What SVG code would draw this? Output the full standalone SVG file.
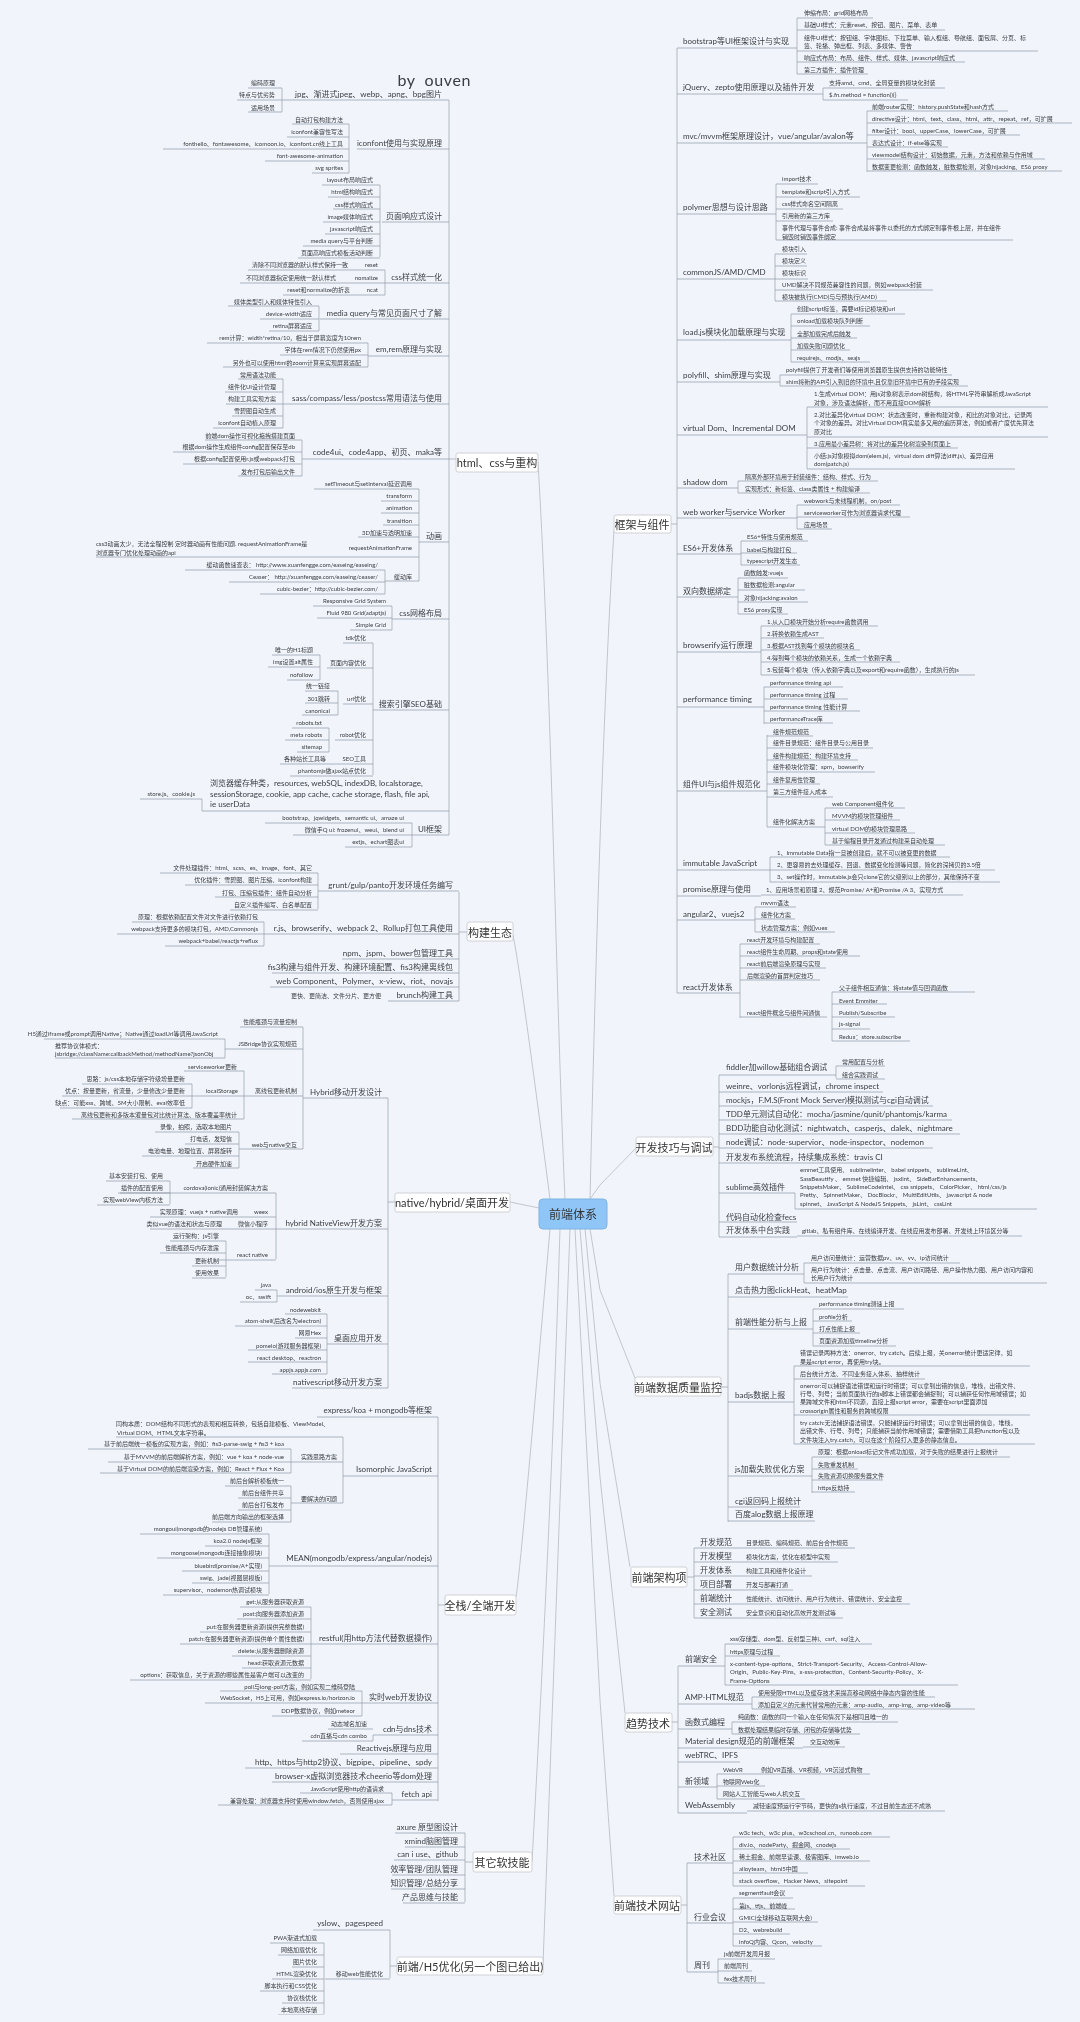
<svg xmlns="http://www.w3.org/2000/svg" width="1080" height="2022" viewBox="0 0 1080 2022">
<style>
text{font-family:"Lato","Noto Sans CJK SC",sans-serif;fill:#3a3d42;dominant-baseline:central}
.L{text-anchor:end}
.st{text-anchor:start}
.s{font-size:6px}
.m{font-size:8px}
.t{font-size:11px;text-anchor:middle;fill:#333}
.b{fill:#fff;stroke:#c3c7cc;stroke-width:.8}
.u{fill:none;stroke:#8d96a3;stroke-width:.7}
.v{fill:none;stroke:#a2a9b3;stroke-width:.8}
.c{fill:none;stroke:#b5bac1;stroke-width:.8}
</style>
<defs><filter id="f" x="0" y="0" width="100%" height="100%"><feGaussianBlur stdDeviation=".3"/></filter></defs>
<rect width="1080" height="2022" fill="#f1f5fb"/>
<g filter="url(#f)">
<g id="connectors">
<path class="c" d="M538 462C552 700 556 1000 565 1199M513 935Q520 967 550 1199M510 1202L539 1208M516 1597Q520 1577 550 1229M532 1862Q552 1500 560 1229M543 1965Q560 1500 570 1229M614 530Q600 760 590 1199M636 1148L600 1185L590 1199M635 1378L600 1290L590 1229M630 1567L600 1383L585 1229M625 1713L600 1477L580 1229M614 1896L600 1700L575 1229"/>
<path class="v" d="M449 100V835M449 459H456M282 88V112M349 124V173M380 185V257M385 270V295M319 306V331M368 343V367M283 379V428M302 440V476M419 489V581M385 570V594M392 606V630M373 643V775M320 655V680M338 691V715M329 728V752M202 799V811M412 823V847"/>
<path class="u" d="M291 100H449M357 149H449M382 222H449M385 283H449M320 319H449M368 356H449M283 404H449M302 459H449M419 542H449M392 619H449M373 710H449M202 811H449M412 835H449
M248 88H282M237 100H291M248 112H282M292 124H349M287 137H349M163 149H349M265 161H349M312 173H349M322 185H380M328 197H380M333 209H380M323 222H380M325 234H380M303 246H380M298 258H380M248 270H385M240 283H385M283 295H385M228 306H319M260 319H319M269 331H319M207 343H368M280 355H368M223 367H368M238 379H283M225 392H283M226 404H283M232 416H283M213 428H283M205 440H302M173 452H302M183 464H302M238 476H302M314 489H419M381 501H419M381 513H419M383 525H419M358 537H419M96 557H419M385 581H419M185 570H385M229 582H385M260 594H385M313 606H392M317 618H392M350 630H392M343 643H373M272 655H320M268 667H320M287 680H320M327 668H373M305 691H338M305 703H338M302 715H338M343 704H373M292 728H329M285 740H329M297 752H329M335 740H373M280 764H373M290 776H373M140 799H202M265 823H412M293 835H412M345 847H412"/>
<path class="v" d="M459 892V1001M459 932H467M318 873V909M264 922V946"/>
<path class="u" d="M318 891H459M264 934H459M342 959H459M272 973H459M270 987H459M388 1001H459M160 873H318M185 885H318M215 897H318M230 910H318M132 922H264M117 934H264M165 946H264"/>
<path class="v" d="M388 1098V1388M388 1202H395M303 1027V1149M225 1039V1058M244 1071V1119M192 1084V1108M239 1132V1168M276 1193V1259M170 1181V1204M226 1241V1277M277 1290V1302M327 1314V1374"/>
<path class="u" d="M303 1098H388M276 1229H388M277 1296H388M327 1344H388M292 1388H388M240 1027H303M225 1049H303M244 1096H303M239 1149H303M44 1039H225M55 1058H225M184 1071H244M192 1096H244M72 1119H244M82 1084H192M62 1096H192M60 1108H192M155 1132H239M185 1144H239M142 1156H239M193 1168H239M120 1193H276M106 1181H170M118 1193H170M97 1205H170M150 1217H276M150 1229H276M170 1241H226M160 1253H226M192 1266H226M192 1278H226M219 1260H276M255 1290H277M240 1302H277M285 1314H327M235 1326H327M295 1338H327M248 1350H327M248 1362H327M272 1374H327"/>
<path class="v" d="M438 1417V1801M438 1605H445M343 1437V1503M291 1449V1473M291 1486V1522M269 1534V1594M311 1607V1679M362 1691V1716M373 1735V1741M392 1793V1805"/>
<path class="u" d="M317 1417H438M343 1476H438M269 1566H438M311 1644H438M362 1703H438M373 1735H438M340 1754H438M245 1768H438M272 1782H438M392 1800H438M116 1437H343M291 1462H343M291 1503H343M88 1449H291M108 1462H291M100 1473H291M225 1486H291M238 1498H291M238 1510H291M212 1522H291M140 1534H269M205 1546H269M157 1558H269M182 1571H269M192 1583H269M163 1595H269M240 1607H311M237 1619H311M200 1632H311M180 1644H311M232 1656H311M242 1668H311M130 1680H311M220 1691H362M205 1703H362M272 1716H362M328 1729H373M302 1741H373M300 1793H392M218 1805H392"/>
<path class="v" d="M465 1833V1902M465 1862H473M390 1930V1978M390 1966H397M324 1943V2014"/>
<path class="u" d="M395 1833H465M405 1847H465M394 1860H465M392 1875H465M391 1889H465M403 1903H465M313 1930H390M325 1979H390M270 1943H324M278 1955H324M292 1967H324M272 1979H324M260 1991H324M282 2003H324M278 2015H324"/>
<path class="v" d="M677 48V993M671 524H677M797 18V74M823 88V100M867 111V172M776 184V240M775 254V301M791 314V362M780 375V386M807 407V469M738 481V493M797 505V529M741 541V565M738 578V614M761 626V675M764 687V724M767 735V827M825 808V845M770 857V882M755 907V932M740 944V1018M832 992V1041"/>
<path class="u" d="M677 48H797M677 94H823M677 143H867M677 214H776M677 279H775M677 340H791M677 382H780M677 435H807M677 488H738M677 518H797M677 554H741M677 597H738M677 652H761M677 707H764M677 791H767M677 870H770M677 896H761M677 920H755M677 993H740
M797 18H873M797 30H945M797 51H1038M797 62H965M797 74H868M823 88H945M823 100H908M867 111H1008M867 123H1072M867 135H1020M867 147H948M867 159H1045M867 171H1062M776 184H818M776 197H860M776 209H843M776 221H833M776 240H1013M775 254H807M775 266H807M775 279H808M775 290H933M775 301H887M791 314H905M791 326H870M791 338H857M791 350H850M791 362H870M780 375H952M780 386H968M807 407H1048M807 437H1048M807 448H958M807 469H1015M738 481H878M738 493H870M797 505H900M797 517H910M797 529H832M741 541H808M741 553H797M741 565H800M738 578H788M738 590H805M738 602H808M738 614H788M761 626H878M761 638H824M761 650H860M761 662H900M761 675H975M764 687H843M764 699H848M764 711H860M764 723H833M767 736H813M767 748H873M767 760H858M767 772H875M767 784H820M767 797H833M767 827H825M825 808H905M825 820H900M825 833H915M825 845H945M770 857H950M770 870H995M770 882H1000M761 895H963M755 907H796M755 919H795M755 932H835M740 944H820M740 956H860M740 968H826M740 980H820M740 1017H827M832 992H975M832 1004H887M832 1017H895M832 1029H870M832 1041H910"/>
<path class="v" d="M719 1075V1237M713 1147H719M836 1066V1078M795 1193V1209"/>
<path class="u" d="M719 1075H836M719 1092H883M719 1106H933M719 1120H952M719 1134H960M719 1148H933M719 1163H880M719 1193H795M719 1222H797M719 1237H797M836 1066H885M836 1079H885M795 1209H1037M797 1236H1022"/>
<path class="v" d="M728 1274V1522M721 1387H728M804 1263V1283M813 1309V1346M794 1366V1444M812 1457V1493"/>
<path class="u" d="M728 1274H804M728 1297H848M728 1329H813M728 1402H794M728 1476H812M728 1507H800M728 1521H815M804 1263H960M804 1283H1047M813 1309H904M813 1321H852M813 1333H860M813 1346H896M794 1366H1030M794 1379H925M794 1415H1030M794 1444H1035M812 1457H1010M812 1469H858M812 1480H883M812 1492H855"/>
<path class="v" d="M694 1548V1618M687 1577H694"/>
<path class="u" d="M694 1548H855M694 1562H838M694 1576H812M694 1590H793M694 1604H910M694 1618H843"/>
<path class="v" d="M678 1666V1813M672 1722H678M725 1644V1685M752 1697V1709M732 1722V1734M717 1774V1799"/>
<path class="u" d="M678 1666H725M678 1704H752M678 1729H732M678 1748H803M678 1762H740M678 1787H717M678 1813H747M725 1644H872M725 1656H780M725 1685H958M752 1697H935M752 1709H975M732 1722H898M732 1734H860M803 1747H845M717 1774H870M717 1786H765M717 1799H805M747 1811H945"/>
<path class="v" d="M687 1863V1972M681 1905H687M733 1837V1886M733 1898V1946M718 1959V1983"/>
<path class="u" d="M687 1863H733M687 1923H733M687 1972H718M733 1837H890M733 1849H850M733 1861H870M733 1873H808M733 1886H865M733 1898H793M733 1909H795M733 1922H818M733 1934H790M733 1946H822M718 1959H775M718 1971H752M718 1983H765"/>
</g>

<g id="title"><text x="471" y="79" class="L" style="font-size:16px;letter-spacing:.6px">by&#160;&#160;ouven</text></g>

<g id="root"><rect x="539" y="1199" width="68" height="30" rx="4" fill="#8fc6f7" stroke="#7fb4e4"/><text x="573" y="1214" class="t" style="font-size:12px">前端体系</text></g>

<g id="sec-html" class="L">
<g id="html"><rect class="b" x="456" y="453" width="82" height="19" rx="2"/><text class="t" x="497" y="462">html、css与重构</text></g>
<g id="h1"><text class="m" x="442" y="94">jpg、渐进式jpeg、webp、apng、bpg图片</text></g>
<g id="h1a"><text class="s" x="275" y="82">编码原理</text></g><g id="h1b"><text class="s" x="275" y="94">特点与优劣势</text></g><g id="h1c"><text class="s" x="275" y="107">适用场景</text></g>
<g id="h2"><text class="m" x="442" y="143">iconfont使用与实现原理</text></g>
<g id="h2a"><text class="s" x="343" y="119">自动打包构建方法</text></g><g id="h2b"><text class="s" x="343" y="131">iconfont兼容性写法</text></g><g id="h2c"><text class="s" x="343" y="143">fonthello、fontawesome、icomoon.io、iconfont.cn线上工具</text></g><g id="h2d"><text class="s" x="343" y="155">font-awesome-animation</text></g><g id="h2e"><text class="s" x="343" y="167">svg sprites</text></g>
<g id="h3"><text class="m" x="442" y="216">页面响应式设计</text></g>
<g id="h3a"><text class="s" x="373" y="179">layout布局响应式</text></g><g id="h3b"><text class="s" x="373" y="191">html结构响应式</text></g><g id="h3c"><text class="s" x="373" y="204">css样式响应式</text></g><g id="h3d"><text class="s" x="373" y="216">image媒体响应式</text></g><g id="h3e"><text class="s" x="373" y="228">javascript响应式</text></g><g id="h3f"><text class="s" x="373" y="240">media query与平台判断</text></g><g id="h3g"><text class="s" x="373" y="252">页面高响应式模板活动判断</text></g>
<g id="h4"><text class="m" x="442" y="277">css样式统一化</text></g>
<g id="h4a"><text class="s" x="378" y="264">reset</text></g><g id="h4b"><text class="s" x="378" y="277">nomalize</text></g><g id="h4c"><text class="s" x="378" y="289">ncat</text></g>
<g id="h4a1"><text class="s" x="348" y="264">清除不同浏览器的默认样式保持一致</text></g><g id="h4b1"><text class="s" x="336" y="277">不同浏览器指定使用统一默认样式</text></g><g id="h4c1"><text class="s" x="350" y="289">reset和normalize的折衷</text></g>
<g id="h5"><text class="m" x="442" y="313">media query与常见页面尺寸了解</text></g>
<g id="h5a"><text class="s" x="312" y="301">媒体类型引入和媒体特性引入</text></g><g id="h5b"><text class="s" x="312" y="313">device-width适应</text></g><g id="h5c"><text class="s" x="312" y="325">retina屏幕适应</text></g>
<g id="h6"><text class="m" x="442" y="349">em,rem原理与实现</text></g>
<g id="h6a"><text class="s" x="361" y="337">rem计算：width*retina/10，相当于屏幕宽度为10rem</text></g><g id="h6b"><text class="s" x="361" y="349">字体在rem情况下仍然使用px</text></g><g id="h6c"><text class="s" x="361" y="362">另外也可以使用html的zoom计算来实现屏幕适配</text></g>
<g id="h7"><text class="m" x="442" y="398">sass/compass/less/postcss常用语法与使用</text></g>
<g id="h7a"><text class="s" x="276" y="374">常用语法功能</text></g><g id="h7b"><text class="s" x="276" y="386">组件化UI设计管理</text></g><g id="h7c"><text class="s" x="276" y="398">构建工具实现方案</text></g><g id="h7d"><text class="s" x="276" y="410">雪碧图自动生成</text></g><g id="h7e"><text class="s" x="276" y="422">iconfont自动植入原理</text></g>
<g id="h8"><text class="m" x="442" y="452">code4ui、code4app、初页、maka等</text></g>
<g id="h8a"><text class="s" x="295" y="435">前端dom操作可视化拖拽搭建页面</text></g><g id="h8b"><text class="s" x="295" y="446">根据dom操作生成组件config配置保存至db</text></g><g id="h8c"><text class="s" x="295" y="458">根据config配置使用r.js或webpack打包</text></g><g id="h8d"><text class="s" x="295" y="471">发布打包后输出文件</text></g>
<g id="h9"><text class="m" x="442" y="536">动画</text></g>
<g id="h9a"><text class="s" x="412" y="483">setTimeout与setInterval延迟调用</text></g><g id="h9b"><text class="s" x="412" y="495">transform</text></g><g id="h9c"><text class="s" x="412" y="507">animation</text></g><g id="h9d"><text class="s" x="412" y="520">transition</text></g><g id="h9e"><text class="s" x="412" y="532">3D加速与透明加速</text></g><g id="h9f"><text class="s" x="412" y="547">requestAnimationFrame</text></g>
<g id="h9f1"><text class="s st" x="96" y="543">css3动画太少，无法全程控制 定时器动画有性能问题. requestAnimationFrame是</text><text class="s st" x="96" y="552">浏览器专门优化处理动画的api</text></g>
<g id="h9g"><text class="s" x="412" y="576">缓动库</text></g>
<g id="h9g1"><text class="s" x="378" y="564">缓动函数速查表： http://www.xuanfengge.com/easeing/easeing/</text></g><g id="h9g2"><text class="s" x="378" y="576">Ceaser： http://xuanfengge.com/easeing/ceaser/</text></g><g id="h9g3"><text class="s" x="378" y="588">cubic-bezier：http://cubic-bezier.com/</text></g>
<g id="h10"><text class="m" x="442" y="613">css网格布局</text></g>
<g id="h10a"><text class="s" x="386" y="600">Responsive Grid System</text></g><g id="h10b"><text class="s" x="386" y="612">Fluid 980 Grid(adaptjs)</text></g><g id="h10c"><text class="s" x="386" y="624">Simple Grid</text></g>
<g id="h11"><text class="m" x="442" y="704">搜索引擎SEO基础</text></g>
<g id="h11a"><text class="s" x="366" y="637">tdk优化</text></g><g id="h11b"><text class="s" x="366" y="662">页面内容优化</text></g>
<g id="h11b1"><text class="s" x="313" y="649">唯一的H1标题</text></g><g id="h11b2"><text class="s" x="313" y="661">img设置alt属性</text></g><g id="h11b3"><text class="s" x="313" y="674">nofollow</text></g>
<g id="h11c"><text class="s" x="366" y="698">url优化</text></g>
<g id="h11c1"><text class="s" x="330" y="685">统一链接</text></g><g id="h11c2"><text class="s" x="330" y="698">301跳转</text></g><g id="h11c3"><text class="s" x="330" y="710">canonical</text></g>
<g id="h11d"><text class="s" x="366" y="734">robot优化</text></g>
<g id="h11d1"><text class="s" x="322" y="722">robots.txt</text></g><g id="h11d2"><text class="s" x="322" y="734">meta robots</text></g><g id="h11d3"><text class="s" x="322" y="746">sitemap</text></g>
<g id="h11e"><text class="s" x="366" y="758">SEO工具</text></g><g id="h11e1"><text class="s" x="326" y="758">各种站长工具等</text></g><g id="h11f"><text class="s" x="366" y="770">phantomjs做ajax站点优化</text></g>
<g id="h12"><text class="m st" x="210" y="783">浏览器缓存种类，resources, webSQL, indexDB, localstorage,</text><text class="m st" x="210" y="794">sessionStorage, cookie, app cache, cache storage, flash, file api,</text><text class="m st" x="210" y="804">ie userData</text></g>
<g id="h12a"><text class="s" x="195" y="793">store.js、cookie.js</text></g>
<g id="h13"><text class="m" x="442" y="829">UI框架</text></g>
<g id="h13a"><text class="s" x="404" y="817">bootstrap、jqwidgets、semantic ui、amaze ui</text></g><g id="h13b"><text class="s" x="404" y="829">微信手Q ui: frozenui、weui、blend ui</text></g><g id="h13c"><text class="s" x="404" y="841">extjs、echart图表ui</text></g>
</g>

<g id="sec-build" class="L">
<g id="build"><rect class="b" x="467" y="922" width="46" height="19" rx="2"/><text class="t" x="490" y="932">构建生态</text></g>
<g id="b1"><text class="m" x="453" y="885">grunt/gulp/panto开发环境任务编写</text></g>
<g id="b1a"><text class="s" x="312" y="867">文件处理插件：html、scss、es、image、font、其它</text></g><g id="b1b"><text class="s" x="312" y="879">优化插件：雪碧图、图片压缩、iconfont构建</text></g><g id="b1c"><text class="s" x="312" y="892">打包、压缩包插件：组件自动分析</text></g><g id="b1d"><text class="s" x="312" y="904">自定义插件编写、白名单配置</text></g>
<g id="b2"><text class="m" x="453" y="928">r.js、browserify、webpack 2、Rollup打包工具使用</text></g>
<g id="b2a"><text class="s" x="258" y="916">原理：根据依赖配置文件对文件进行依赖打包</text></g><g id="b2b"><text class="s" x="258" y="928">webpack支持更多的模块打包，AMD,Commonjs</text></g><g id="b2c"><text class="s" x="258" y="940">webpack+babel/reactjs+reflux</text></g>
<g id="b3"><text class="m" x="453" y="953">npm、jspm、bower包管理工具</text></g>
<g id="b4"><text class="m" x="453" y="967">fis3构建与组件开发、构建环境配置、fis3构建离线包</text></g>
<g id="b5"><text class="m" x="453" y="981">web Component、Polymer、x-view、riot、novajs</text></g>
<g id="b6"><text class="m" x="453" y="995">brunch构建工具</text></g><g id="b6a"><text class="s" x="381" y="995">更快、更简洁、文件分片、更方便</text></g>
</g>

<g id="sec-native" class="L">
<g id="native"><rect class="b" x="395" y="1193" width="115" height="19" rx="2"/><text class="t" x="452" y="1202">native/hybrid/桌面开发</text></g>
<g id="n1"><text class="m" x="382" y="1092">Hybrid移动开发设计</text></g>
<g id="n1a"><text class="s" x="297" y="1021">性能瓶颈与流量控制</text></g><g id="n1b"><text class="s" x="297" y="1043">JSBridge协议实现规范</text></g>
<g id="n1b1"><text class="s" x="218" y="1033">H5通过iframe或prompt调用Native；Native通过loadUrl等调用JavaScript</text></g><g id="n1b2"><text class="s st" x="55" y="1045">推荐协议体模式：</text><text class="s st" x="55" y="1053">jsbridge://className:callbackMethod/methodName?jsonObj</text></g>
<g id="n1c"><text class="s" x="297" y="1090">离线包更新机制</text></g>
<g id="n1c1"><text class="s" x="237" y="1066">serviceworker更新</text></g><g id="n1c2"><text class="s" x="238" y="1090">localStorage</text></g><g id="n1c3"><text class="s" x="237" y="1114">离线包更新和多版本灌量包对比统计算法、版本覆盖率统计</text></g>
<g id="n1c2a"><text class="s" x="185" y="1078">思路：js/css本地存储字符级增量更新</text></g><g id="n1c2b"><text class="s" x="185" y="1090">优点：按量更新，省流量，少量修改少量更新</text></g><g id="n1c2c"><text class="s" x="185" y="1102">缺点：可能xss、跨域、5M大小限制、eval效率低</text></g>
<g id="n1d"><text class="s" x="297" y="1144">web与native交互</text></g>
<g id="n1d1"><text class="s" x="232" y="1126">录像，拍照，选取本地图片</text></g><g id="n1d2"><text class="s" x="232" y="1138">打电话，发短信</text></g><g id="n1d3"><text class="s" x="232" y="1150">电池电量、地理位置、屏幕旋转</text></g><g id="n1d4"><text class="s" x="232" y="1163">开启硬件加速</text></g>
<g id="n2"><text class="m" x="382" y="1223">hybrid NativeView开发方案</text></g>
<g id="n2a"><text class="s" x="268" y="1187">cordova(ionic)通用封装解决方案</text></g>
<g id="n2a1"><text class="s" x="163" y="1175">基本安装打包、使用</text></g><g id="n2a2"><text class="s" x="163" y="1187">插件的配置使用</text></g><g id="n2a3"><text class="s" x="163" y="1199">实现webView内核方法</text></g>
<g id="n2b"><text class="s" x="268" y="1211">weex</text></g><g id="n2b1"><text class="s" x="238" y="1211">实现原理：vuejs + native调用</text></g>
<g id="n2c"><text class="s" x="268" y="1223">微信小程序</text></g><g id="n2c1"><text class="s" x="222" y="1223">类似vue的语法和状态与原理</text></g>
<g id="n2d"><text class="s" x="268" y="1254">react native</text></g>
<g id="n2d1"><text class="s" x="219" y="1235">运行架构：js引擎</text></g><g id="n2d2"><text class="s" x="219" y="1247">性能瓶颈与内存泄露</text></g><g id="n2d3"><text class="s" x="219" y="1260">更新机制</text></g><g id="n2d4"><text class="s" x="219" y="1272">使用效果</text></g>
<g id="n3"><text class="m" x="382" y="1290">android/ios原生开发与框架</text></g>
<g id="n3a"><text class="s" x="271" y="1284">java</text></g><g id="n3b"><text class="s" x="271" y="1296">oc、swift</text></g>
<g id="n4"><text class="m" x="382" y="1338">桌面应用开发</text></g>
<g id="n4a"><text class="s" x="321" y="1309">nodewebkit</text></g><g id="n4b"><text class="s" x="321" y="1320">atom-shell(后改名为electron)</text></g><g id="n4c"><text class="s" x="321" y="1332">网易Hex</text></g><g id="n4d"><text class="s" x="321" y="1345">pomelo(游戏服务器框架)</text></g><g id="n4e"><text class="s" x="321" y="1357">react desktop、reactron</text></g><g id="n4f"><text class="s" x="321" y="1369">appjs.appjs.com</text></g>
<g id="n5"><text class="m" x="382" y="1382">nativescript移动开发方案</text></g>
</g>

<g id="sec-full" class="L">
<g id="full"><rect class="b" x="445" y="1595" width="71" height="20" rx="2"/><text class="t" x="480" y="1605">全栈/全端开发</text></g>
<g id="f1"><text class="m" x="432" y="1410">express/koa + mongodb等框架</text></g>
<g id="f2"><text class="m" x="432" y="1469">Isomorphic JavaScript</text></g>
<g id="f2a"><text class="s st" x="116" y="1423">同构本质：DOM结构不同形式的表现和相互转换，包括自建模板、ViewModel、</text><text class="s st" x="117" y="1432">Virtual DOM、HTML文本字符串。</text></g>
<g id="f2b"><text class="s" x="337" y="1456">实践思路方案</text></g><g id="f2c"><text class="s" x="337" y="1498">要解决的问题</text></g>
<g id="f2b1"><text class="s" x="284" y="1443">基于前后端统一模板的实现方案，例如：fis3-parse-swig + fis3 + koa</text></g><g id="f2b2"><text class="s" x="284" y="1456">基于MVVM的前后端解析方案，例如：vue + koa + node-vue</text></g><g id="f2b3"><text class="s" x="284" y="1468">基于Virtual DOM的前后端渲染方案，例如：React + Flux + Koa</text></g>
<g id="f2c1"><text class="s" x="284" y="1480">前后台解析模板统一</text></g><g id="f2c2"><text class="s" x="284" y="1492">前后台组件共享</text></g><g id="f2c3"><text class="s" x="284" y="1504">前后台打包发布</text></g><g id="f2c4"><text class="s" x="284" y="1516">前后端方向输出的框架选择</text></g>
<g id="f3"><text class="m" x="432" y="1558">MEAN(mongodb/express/angular/nodejs)</text></g>
<g id="f3a"><text class="s" x="262" y="1528">mongoui(mongodb的nodejs DB管理系统)</text></g><g id="f3b"><text class="s" x="262" y="1540">koa2.0 nodejs框架</text></g><g id="f3c"><text class="s" x="262" y="1552">mongoose(mongodb连接抽象模块)</text></g><g id="f3d"><text class="s" x="262" y="1565">bluebird(promise/A+实现)</text></g><g id="f3e"><text class="s" x="262" y="1577">swig、jade(视图层模板)</text></g><g id="f3f"><text class="s" x="262" y="1589">supervisor、nodemon热调试模块</text></g>
<g id="f4"><text class="m" x="432" y="1638">restful(用http方法代替数据操作)</text></g>
<g id="f4a"><text class="s" x="304" y="1601">get:从服务器获取资源</text></g><g id="f4b"><text class="s" x="304" y="1613">post:向服务器添加资源</text></g><g id="f4c"><text class="s" x="304" y="1626">put:在服务器更新资源(提供完整数据)</text></g><g id="f4d"><text class="s" x="304" y="1638">patch:在服务器更新资源(提供单个属性数据)</text></g><g id="f4e"><text class="s" x="304" y="1650">delete:从服务器删除资源</text></g><g id="f4f"><text class="s" x="304" y="1662">head:获取资源元数据</text></g><g id="f4g"><text class="s" x="304" y="1674">options：获取信息，关于资源的哪些属性是客户端可以改变的</text></g>
<g id="f5"><text class="m" x="432" y="1697">实时web开发协议</text></g>
<g id="f5a"><text class="s" x="355" y="1686">poll与long-poll方案，例如实现二维码登陆</text></g><g id="f5b"><text class="s" x="355" y="1697">WebSocket，H5上可用，例如express.io/horizon.io</text></g><g id="f5c"><text class="s" x="355" y="1710">DDP数据协议，例如meteor</text></g>
<g id="f6"><text class="m" x="432" y="1729">cdn与dns技术</text></g>
<g id="f6a"><text class="s" x="367" y="1723">动态域名加速</text></g><g id="f6b"><text class="s" x="367" y="1735">cdn直播与cdn combo</text></g>
<g id="f7"><text class="m" x="432" y="1748">Reactivejs原理与应用</text></g>
<g id="f8"><text class="m" x="432" y="1762">http、https与http2协议、bigpipe、pipeline、spdy</text></g>
<g id="f9"><text class="m" x="432" y="1776">browser-x虚拟浏览器技术cheerio等dom处理</text></g>
<g id="f10"><text class="m" x="432" y="1794">fetch api</text></g>
<g id="f10a"><text class="s" x="384" y="1788">JavaScript使用http的语请求</text></g><g id="f10b"><text class="s" x="384" y="1800">兼容处理：浏览器支持时使用window.fetch，否则使用ajax</text></g>
</g>

<g id="sec-soft" class="L">
<g id="soft"><rect class="b" x="473" y="1852" width="59" height="20" rx="2"/><text class="t" x="502" y="1862">其它软技能</text></g>
<g id="o1"><text class="m" x="458" y="1827">axure 原型图设计</text></g><g id="o2"><text class="m" x="458" y="1841">xmind脑图管理</text></g><g id="o3"><text class="m" x="458" y="1854">can i use、github</text></g><g id="o4"><text class="m" x="458" y="1869">效率管理/团队管理</text></g><g id="o5"><text class="m" x="458" y="1883">知识管理/总结分享</text></g><g id="o6"><text class="m" x="458" y="1897">产品思维与技能</text></g>
</g>

<g id="sec-h5" class="L">
<g id="h5node"><rect class="b" x="397" y="1957" width="146" height="18" rx="2"/><text class="t" x="470" y="1966">前端/H5优化(另一个图已给出)</text></g>
<g id="p1"><text class="m" x="383" y="1923">yslow、pagespeed</text></g>
<g id="p2"><text class="s" x="383" y="1973">移动web性能优化</text></g>
<g id="p2a"><text class="s" x="317" y="1937">PWA渐进式加载</text></g><g id="p2b"><text class="s" x="317" y="1949">网络加载优化</text></g><g id="p2c"><text class="s" x="317" y="1961">图片优化</text></g><g id="p2d"><text class="s" x="317" y="1973">HTML渲染优化</text></g><g id="p2e"><text class="s" x="317" y="1985">脚本执行和CSS优化</text></g><g id="p2f"><text class="s" x="317" y="1997">协议栈优化</text></g><g id="p2g"><text class="s" x="317" y="2009">本地离线存储</text></g>
</g>

<g id="sec-frame">
<g id="frame"><rect class="b" x="614" y="515" width="57" height="18" rx="2"/><text class="t" x="642" y="524">框架与组件</text></g>
<g id="a1"><text class="m" x="683" y="41">bootstrap等UI框架设计与实现</text></g>
<g id="a1a"><text class="s" x="804" y="12">伸缩布局：grid网格布局</text></g><g id="a1b"><text class="s" x="804" y="24">基础UI样式：元素reset、按钮、图片、菜单、表单</text></g><g id="a1c"><text class="s" x="804" y="37">组件UI样式：按钮组、字体图标、下拉菜单、输入框组、导航组、面包屑、分页、标</text><text class="s" x="804" y="45">签、轮播、弹出框、列表、多媒体、警告</text></g><g id="a1d"><text class="s" x="804" y="57">响应式布局：布局、组件、样式、媒体、javascript响应式</text></g><g id="a1e"><text class="s" x="804" y="69">第三方插件：插件管理</text></g>
<g id="a2"><text class="m" x="683" y="87">jQuery、zepto使用原理以及插件开发</text></g>
<g id="a2a"><text class="s" x="829" y="82">支持amd、cmd、全局变量的模块化封装</text></g><g id="a2b"><text class="s" x="829" y="94">$.fn.method = function(){}</text></g>
<g id="a3"><text class="m" x="683" y="136">mvc/mvvm框架原理设计，vue/angular/avalon等</text></g>
<g id="a3a"><text class="s" x="872" y="106">前端router实现：history.pushState和hash方式</text></g><g id="a3b"><text class="s" x="872" y="118">directive设计：html、text、class、html、attr、repeat、ref，可扩展</text></g><g id="a3c"><text class="s" x="872" y="130">filter设计：bool、upperCase、lowerCase，可扩展</text></g><g id="a3d"><text class="s" x="872" y="142">表达式设计：if-else等实现</text></g><g id="a3e"><text class="s" x="872" y="154">viewmodel结构设计：初始数据，元素，方法和依赖与作用域</text></g><g id="a3f"><text class="s" x="872" y="166">数据变更检测：函数触发，脏数据检测，对象hijacking、ES6 proxy</text></g>
<g id="a4"><text class="m" x="683" y="207">polymer思想与设计思路</text></g>
<g id="a4a"><text class="s" x="782" y="178">import技术</text></g><g id="a4b"><text class="s" x="782" y="191">template和script引入方式</text></g><g id="a4c"><text class="s" x="782" y="203">css样式命名空间隔离</text></g><g id="a4d"><text class="s" x="782" y="215">引用新的第三方库</text></g><g id="a4e"><text class="s" x="782" y="227">事件代理与事件合成: 事件合成是将事件以委托的方式绑定到事件根上层，并在组件</text><text class="s" x="782" y="236">销毁时销毁事件绑定</text></g>
<g id="a5"><text class="m" x="683" y="272">commonJS/AMD/CMD</text></g>
<g id="a5a"><text class="s" x="782" y="248">模块引入</text></g><g id="a5b"><text class="s" x="782" y="260">模块定义</text></g><g id="a5c"><text class="s" x="782" y="272">模块标识</text></g><g id="a5d"><text class="s" x="782" y="284">UMD解决不同规范兼容性的问题，例如webpack封装</text></g><g id="a5e"><text class="s" x="782" y="296">模块被执行(CMD)与与预执行(AMD)</text></g>
<g id="a6"><text class="m" x="683" y="332">load.js模块化加载原理与实现</text></g>
<g id="a6a"><text class="s" x="797" y="308">创建script标签，需要id标记模块和url</text></g><g id="a6b"><text class="s" x="797" y="320">onload加载模块队列判断</text></g><g id="a6c"><text class="s" x="797" y="333">全部加载完成后触发</text></g><g id="a6d"><text class="s" x="797" y="345">加载失败问题优化</text></g><g id="a6e"><text class="s" x="797" y="357">requirejs、modjs、seajs</text></g>
<g id="a7"><text class="m" x="683" y="375">polyfill、shim原理与实现</text></g>
<g id="a7a"><text class="s" x="786" y="369">polyfill提供了开发者们等使用浏览器原生提供支持的功能特性</text></g><g id="a7b"><text class="s" x="786" y="381">shim将新的API引入到旧的环境中,且仅靠旧环境中已有的手段实现</text></g>
<g id="a8"><text class="m" x="683" y="428">virtual Dom、Incremental DOM</text></g>
<g id="a8a"><text class="s" x="814" y="393">1.生成virtual DOM：用js对象树表示dom树结构，将HTML字符串解析成JavaScript</text><text class="s" x="814" y="402">对象，涉及语法解析，而不用直接DOM解析</text></g>
<g id="a8b"><text class="s" x="814" y="414">2.对比差异化virtual DOM：状态改变时，重新构建对象，和比的对象对比，记录两</text><text class="s" x="814" y="422">个对象的差异。对比Virtual DOM真实最多又用的遍历算法，例如或者广度优先算法</text><text class="s" x="814" y="431">原对比</text></g>
<g id="a8c"><text class="s" x="814" y="443">3.应用最小差异树：将对比的差异化树渲染到页面上</text></g>
<g id="a8d"><text class="s" x="814" y="455">小结:js对象模拟dom(elem.js)，virtual dom diff算法(diff.js)、差异应用</text><text class="s" x="814" y="463">dom(patch.js)</text></g>
<g id="a9"><text class="m" x="683" y="482">shadow dom</text></g>
<g id="a9a"><text class="s" x="745" y="476">隔离外部环境用于封装组件：结构、样式、行为</text></g><g id="a9b"><text class="s" x="745" y="488">实现形式：新标签、class类属性 + 构建编译</text></g>
<g id="a10"><text class="m" x="683" y="512">web worker与service Worker</text></g>
<g id="a10a"><text class="s" x="804" y="500">webwork与未线程机制，on/post</text></g><g id="a10b"><text class="s" x="804" y="512">serviceworker可作为浏览器请求代理</text></g><g id="a10c"><text class="s" x="804" y="524">应用场景</text></g>
<g id="a11"><text class="m" x="683" y="548">ES6+开发体系</text></g>
<g id="a11a"><text class="s" x="747" y="536">ES6+特性与使用规范</text></g><g id="a11b"><text class="s" x="747" y="549">babel与构建打包</text></g><g id="a11c"><text class="s" x="747" y="560">typescript开发生态</text></g>
<g id="a12"><text class="m" x="683" y="591">双向数据绑定</text></g>
<g id="a12a"><text class="s" x="744" y="572">函数触发:vuejs</text></g><g id="a12b"><text class="s" x="744" y="584">脏数据检测:angular</text></g><g id="a12c"><text class="s" x="744" y="597">对象hijacking:avalon</text></g><g id="a12d"><text class="s" x="744" y="609">ES6 proxy实现</text></g>
<g id="a13"><text class="m" x="683" y="645">browserify运行原理</text></g>
<g id="a13a"><text class="s" x="767" y="621">1.从入口模块开始分析require函数调用</text></g><g id="a13b"><text class="s" x="767" y="633">2.转换依赖生成AST</text></g><g id="a13c"><text class="s" x="767" y="645">3.根据AST找到每个模块的模块名</text></g><g id="a13d"><text class="s" x="767" y="657">4.得到每个模块的依赖关系，生成一个依赖字典</text></g><g id="a13e"><text class="s" x="767" y="669">5.包装每个模块（传入依赖字典以及export和require函数），生成执行的js</text></g>
<g id="a14"><text class="m" x="683" y="699">performance timing</text></g>
<g id="a14a"><text class="s" x="770" y="682">performance timing api</text></g><g id="a14b"><text class="s" x="770" y="694">performance timing 过程</text></g><g id="a14c"><text class="s" x="770" y="706">performance timing 性能计算</text></g><g id="a14d"><text class="s" x="770" y="718">performanceTrace库</text></g>
<g id="a15"><text class="m" x="683" y="784">组件UI与js组件规范化</text></g>
<g id="a15a"><text class="s" x="773" y="731">组件规范规范</text></g><g id="a15b"><text class="s" x="773" y="742">组件目录规范：组件目录与公用目录</text></g><g id="a15c"><text class="s" x="773" y="755">组件构建规范：构建环境支持</text></g><g id="a15d"><text class="s" x="773" y="766">组件模块化管理：spm，bowserify</text></g><g id="a15e"><text class="s" x="773" y="779">组件复用性管理</text></g><g id="a15f"><text class="s" x="773" y="791">第三方组件接入成本</text></g><g id="a15g"><text class="s" x="773" y="821">组件化解决方案</text></g>
<g id="a15g1"><text class="s" x="832" y="803">web Component组件化</text></g><g id="a15g2"><text class="s" x="832" y="815">MVVM的模块管理组件</text></g><g id="a15g3"><text class="s" x="832" y="828">virtual DOM的模块管理思路</text></g><g id="a15g4"><text class="s" x="832" y="840">基于编程目录开发通过构建来自动处理</text></g>
<g id="a16"><text class="m" x="683" y="863">immutable JavaScript</text></g>
<g id="a16a"><text class="s" x="777" y="852">1、Immutable Data指一旦被创建后，就不可以被变更的数据</text></g><g id="a16b"><text class="s" x="777" y="864">2、更容易的去处理缓存、回退、数据变化检测等问题，简化的深拷贝的3.5倍</text></g><g id="a16c"><text class="s" x="777" y="876">3、set操作时，immutable.js会只clone它的父级别以上的部分，其他保持不变</text></g>
<g id="a17"><text class="m" x="683" y="889">promise原理与使用</text></g>
<g id="a17a"><text class="s" x="766" y="889">1、应用场景和原理 2、规范Promise/ A+和Promise /A 3、实现方式</text></g>
<g id="a18"><text class="m" x="683" y="914">angular2、vuejs2</text></g>
<g id="a18a"><text class="s" x="761" y="902">mvvm语法</text></g><g id="a18b"><text class="s" x="761" y="914">组件化方案</text></g><g id="a18c"><text class="s" x="761" y="927">状态管理方案：例如vuex</text></g>
<g id="a19"><text class="m" x="683" y="987">react开发体系</text></g>
<g id="a19a"><text class="s" x="747" y="939">react开发环境与构建配置</text></g><g id="a19b"><text class="s" x="747" y="951">react组件生命周期、props和state使用</text></g><g id="a19c"><text class="s" x="747" y="963">react前后端渲染原理与实现</text></g><g id="a19d"><text class="s" x="747" y="975">后端渲染的首屏判定技巧</text></g><g id="a19e"><text class="s" x="747" y="1012">react组件概念与组件间通信</text></g>
<g id="a19e1"><text class="s" x="839" y="987">父子组件相互通信：将state值与回调函数</text></g><g id="a19e2"><text class="s" x="839" y="1000">Event Emmiter</text></g><g id="a19e3"><text class="s" x="839" y="1012">Publish/Subscribe</text></g><g id="a19e4"><text class="s" x="839" y="1023">js-signal</text></g><g id="a19e5"><text class="s" x="839" y="1036">Redux：store.subscribe</text></g>
</g>

<g id="sec-dev">
<g id="dev"><rect class="b" x="636" y="1137" width="77" height="19" rx="2"/><text class="t" x="674" y="1147">开发技巧与调试</text></g>
<g id="d1"><text class="m" x="726" y="1067">fiddler加willow基础组合调试</text></g><g id="d1a"><text class="s" x="842" y="1061">常用配置与分析</text></g><g id="d1b"><text class="s" x="842" y="1074">组合实践调试</text></g>
<g id="d2"><text class="m" x="726" y="1086">weinre、vorlonjs远程调试，chrome inspect</text></g>
<g id="d3"><text class="m" x="726" y="1100">mockjs，F.M.S(Front Mock Server)模拟测试与cgi自动调试</text></g>
<g id="d4"><text class="m" x="726" y="1114">TDD单元测试自动化：mocha/jasmine/qunit/phantomjs/karma</text></g>
<g id="d5"><text class="m" x="726" y="1128">BDD功能自动化测试：nightwatch、casperjs、dalek、nightmare</text></g>
<g id="d6"><text class="m" x="726" y="1142">node调试：node-supervior、node-inspector、nodemon</text></g>
<g id="d7"><text class="m" x="726" y="1157">开发发布系统流程，持续集成系统：travis CI</text></g>
<g id="d8"><text class="m" x="726" y="1187">sublime高效插件</text></g>
<g id="d8a"><text class="s" x="800" y="1169">emmet工具使用、 sublimelinter、 babel snippets、 sublimeLint、</text><text class="s" x="800" y="1178">SassBeautify 、 emmet 快捷编辑、 jsxlint、 SideBarEnhancements、</text><text class="s" x="800" y="1186">SnippetsMaker、 SublimeCodeIntel、 css snippets、 ColorPicker、 html/css/js</text><text class="s" x="800" y="1194">Pretty、 SpinnetMaker、 DocBlockr、 MultiEditUtils、 javascript &amp; node</text><text class="s" x="800" y="1203">spinnet、 JavaScript &amp; NodeJS Snippets、 jsLint、 cssLint</text></g>
<g id="d9"><text class="m" x="726" y="1217">代码自动化检查fecs</text></g>
<g id="d10"><text class="m" x="726" y="1230">开发体系中台实践</text></g><g id="d10a"><text class="s" x="802" y="1230">gitlab、私有组件库、在线编译开发、在线应用发布部署、开发线上环境区分等</text></g>
</g>

<g id="sec-data">
<g id="data"><rect class="b" x="635" y="1377" width="86" height="19" rx="2"/><text class="t" x="678" y="1387">前端数据质量监控</text></g>
<g id="q1"><text class="m" x="735" y="1267">用户数据统计分析</text></g>
<g id="q1a"><text class="s" x="811" y="1257">用户访问量统计：运营数据pv、uv、vv、ip访问统计</text></g><g id="q1b"><text class="s" x="811" y="1269">用户行为统计：点击量、点击流、用户访问路径、用户操作热力图、用户访问内容和</text><text class="s" x="811" y="1277">长用户行为统计</text></g>
<g id="q2"><text class="m" x="735" y="1290">点击热力图clickHeat、heatMap</text></g>
<g id="q3"><text class="m" x="735" y="1322">前端性能分析与上报</text></g>
<g id="q3a"><text class="s" x="819" y="1303">performance timing测速上报</text></g><g id="q3b"><text class="s" x="819" y="1316">profile分析</text></g><g id="q3c"><text class="s" x="819" y="1328">打点性能上报</text></g><g id="q3d"><text class="s" x="819" y="1340">页面资源加载timeline分析</text></g>
<g id="q4"><text class="m" x="735" y="1395">badjs数据上报</text></g>
<g id="q4a"><text class="s" x="800" y="1352">错误记录两种方法：onerror、try catch。后续上报，关onerror统计更适定律，如</text><text class="s" x="800" y="1361">果是script error，再使用try块。</text></g>
<g id="q4b"><text class="s" x="800" y="1373">后台统计方法、不同业务接入体系、抽样统计</text></g>
<g id="q4c"><text class="s" x="800" y="1385">onerror:可以捕捉语法错误和运行时错误；可以拿到出错的信息，堆栈，出错文件、</text><text class="s" x="800" y="1393">行号、列号；当前页面执行的js脚本上错误都会捕捉到；可以捕获任何作用域错误；如</text><text class="s" x="800" y="1401">果跨域文件和html不同源，直接上报script error，需要在script里面添加</text><text class="s" x="800" y="1410">crossorigin属性和服务的跨域权限</text></g>
<g id="q4d"><text class="s" x="800" y="1422">try catch:无法捕捉语法错误，只能捕捉运行时错误；可以拿到出错的信息，堆栈，</text><text class="s" x="800" y="1430">出错文件、行号、列号；只能捕获当前作用域错误；需要借助工具把function包以及</text><text class="s" x="800" y="1439">文件块注入try.catch，可以在这个阶段打入更多的静态信息。</text></g>
<g id="q5"><text class="m" x="735" y="1469">js加载失败优化方案</text></g>
<g id="q5a"><text class="s" x="818" y="1451">原理：根据onload标记文件成功加载，对于失败的结果进行上报统计</text></g><g id="q5b"><text class="s" x="818" y="1464">失败重发机制</text></g><g id="q5c"><text class="s" x="818" y="1475">失败资源切换服务器文件</text></g><g id="q5d"><text class="s" x="818" y="1487">https反劫持</text></g>
<g id="q6"><text class="m" x="735" y="1501">cgi返回码上报统计</text></g>
<g id="q7"><text class="m" x="735" y="1514">百度alog数据上报原理</text></g>
</g>

<g id="sec-arch">
<g id="arch"><rect class="b" x="631" y="1567" width="56" height="20" rx="2"/><text class="t" x="659" y="1577">前端架构项</text></g>
<g id="r1"><text class="m" x="700" y="1542">开发规范</text></g><g id="r1a"><text class="s" x="746" y="1542">目录规范、编码规范、前后台合作规范</text></g>
<g id="r2"><text class="m" x="700" y="1556">开发模型</text></g><g id="r2a"><text class="s" x="746" y="1556">模块化方案，优化在模型中实现</text></g>
<g id="r3"><text class="m" x="700" y="1570">开发体系</text></g><g id="r3a"><text class="s" x="746" y="1570">构建工具和组件化设计</text></g>
<g id="r4"><text class="m" x="700" y="1584">项目部署</text></g><g id="r4a"><text class="s" x="746" y="1584">开发与部署打通</text></g>
<g id="r5"><text class="m" x="700" y="1598">前端统计</text></g><g id="r5a"><text class="s" x="746" y="1598">性能统计、访问统计、用户行为统计、错误统计、安全监控</text></g>
<g id="r6"><text class="m" x="700" y="1612">安全测试</text></g><g id="r6a"><text class="s" x="746" y="1612">安全意识和自动化高效开发测试等</text></g>
</g>

<g id="sec-trend">
<g id="trend"><rect class="b" x="625" y="1713" width="47" height="19" rx="2"/><text class="t" x="648" y="1723">趋势技术</text></g>
<g id="y1"><text class="m" x="685" y="1659">前端安全</text></g>
<g id="y1a"><text class="s" x="730" y="1638">xss(存储型、dom型、反射型三种)、csrf、sql注入</text></g><g id="y1b"><text class="s" x="730" y="1651">https原理与过程</text></g><g id="y1c"><text class="s" x="730" y="1663">x-content-type-options、Strict-Transport-Security、Access-Control-Allow-</text><text class="s" x="730" y="1671">Origin、Public-Key-Pins、x-xss-protection、Content-Security-Policy、X-</text><text class="s" x="730" y="1680">Frame-Options</text></g>
<g id="y2"><text class="m" x="685" y="1697">AMP-HTML规范</text></g>
<g id="y2a"><text class="s" x="758" y="1692">使用受限HTML以及缓存技术来提高移动网络中静态内容的性能</text></g><g id="y2b"><text class="s" x="758" y="1704">添加自定义的元素代替常用的元素：amp-audio、amp-img、amp-video等</text></g>
<g id="y3"><text class="m" x="685" y="1722">函数式编程</text></g>
<g id="y3a"><text class="s" x="738" y="1716">纯函数：函数的同一个输入在任何情况下是相同且唯一的</text></g><g id="y3b"><text class="s" x="738" y="1729">数据处理结果临时存储、闭包的存储等优势</text></g>
<g id="y4"><text class="m" x="685" y="1741">Material design规范的前端框架</text></g><g id="y4a"><text class="s" x="810" y="1741">交互动效库</text></g>
<g id="y5"><text class="m" x="685" y="1755">webTRC、IPFS</text></g>
<g id="y6"><text class="m" x="685" y="1781">新领域</text></g>
<g id="y6a"><text class="s" x="723" y="1769">WebVR</text></g><g id="y6a1"><text class="s" x="761" y="1769">例如VR直播、VR视频，VR沉浸式购物</text></g><g id="y6b"><text class="s" x="723" y="1781">物联网Web化</text></g><g id="y6c"><text class="s" x="723" y="1793">网站人工智能与web人机交互</text></g>
<g id="y7"><text class="m" x="685" y="1805">WebAssembly</text></g><g id="y7a"><text class="s" x="753" y="1805">减轻速度预运行字节码，更快的js执行速度，不过目前生态还不成熟</text></g>
</g>

<g id="sec-site">
<g id="site"><rect class="b" x="614" y="1896" width="67" height="18" rx="2"/><text class="t" x="647" y="1905">前端技术网站</text></g>
<g id="w1"><text class="m" x="694" y="1857">技术社区</text></g>
<g id="w1a"><text class="s" x="739" y="1832">w3c tech、w3c plus、w3cschool.cn、runoob.com</text></g><g id="w1b"><text class="s" x="739" y="1844">div.io、nodeParty、掘金网、cnodejs</text></g><g id="w1c"><text class="s" x="739" y="1856">稀土掘金、前端早读课、极客图库、imweb.io</text></g><g id="w1d"><text class="s" x="739" y="1868">alloyteam、html5中国</text></g><g id="w1e"><text class="s" x="739" y="1880">stack overflow、Hacker News、sitepoint</text></g>
<g id="w2"><text class="m" x="694" y="1917">行业会议</text></g>
<g id="w2a"><text class="s" x="739" y="1892">segmentfault会议</text></g><g id="w2b"><text class="s" x="739" y="1905">第js、tfjs、前端峰</text></g><g id="w2c"><text class="s" x="739" y="1917">GMIC(全球移动互联网大会)</text></g><g id="w2d"><text class="s" x="739" y="1929">D2、webrebuild</text></g><g id="w2e"><text class="s" x="739" y="1941">infoQ内容、Qcon、velocity</text></g>
<g id="w3"><text class="m" x="694" y="1965">周刊</text></g>
<g id="w3a"><text class="s" x="724" y="1953">js前端开发周月报</text></g><g id="w3b"><text class="s" x="724" y="1965">前端周刊</text></g><g id="w3c"><text class="s" x="724" y="1978">fex技术周刊</text></g>
</g>
</g>
</svg>
